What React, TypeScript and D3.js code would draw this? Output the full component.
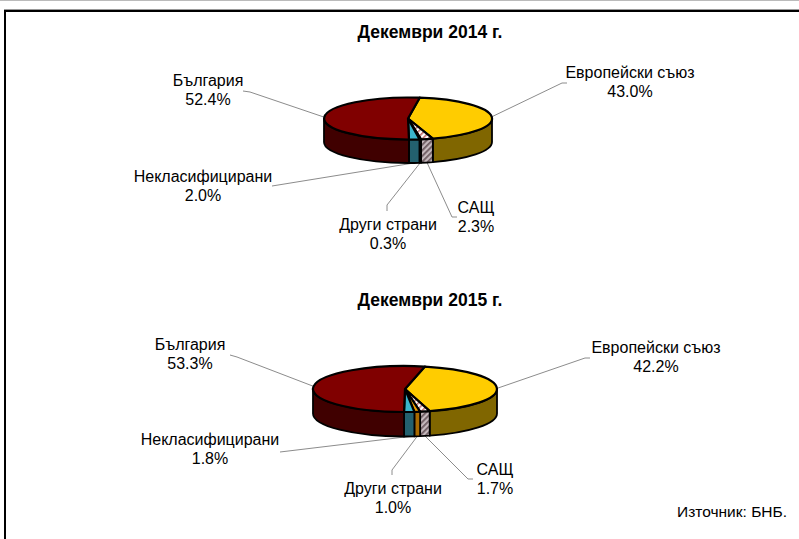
import React from "react";
import * as d3 from "d3";

// categories in the order the slices run clockwise from the top
const categories = ["Европейски съюз", "САЩ", "Други страни", "Некласифицирани", "България"];
const values2014 = [43.0, 2.3, 0.3, 2.0, 52.4];
const values2015 = [42.2, 1.7, 1.0, 1.8, 53.3];
const titles = ["Декември 2014 г.", "Декември 2015 г."];
const source = "Източник: БНБ.";

const topFill = ["#FFCC00", "url(#hatchTop)", "#F29E00", "#3BB4CC", "#800000"];
const sideFill = ["#806600", "url(#hatchSide)", "#A86A00", "#23606E", "#400000"];

const W = 799;
const H = 539;
const FONT = "'Liberation Sans', Arial, sans-serif";

interface LabelPos {
    x: number; // text centre
    y: number; // first baseline
    line: [number, number][]; // leader line points, from the label side
}

interface PieLayout {
    values: number[];
    title: string;
    titleY: number;
    cx: number;
    cy: number;
    rx: number;
    ry: number;
    depth: number;
    start: number; // degrees clockwise from top
    labels: LabelPos[];
}

const layouts: PieLayout[] = [
    {
        values: values2014, title: titles[0], titleY: 38,
        cx: 408, cy: 118.5, rx: 84, ry: 21, depth: 23.5, start: 8,
        labels: [
            { x: 630, y: 78, line: [[567, 83], [562, 83]] },
            { x: 476, y: 213, line: [[457, 217], [452, 217]] },
            { x: 388, y: 230, line: [[387, 211], [387, 205]] },
            { x: 203, y: 182, line: [[272, 186]] },
            { x: 208, y: 86, line: [[243, 91], [250, 92]] },
        ],
    },
    {
        values: values2015, title: titles[1], titleY: 306,
        cx: 405, cy: 389, rx: 92, ry: 23, depth: 24.5, start: 12.5,
        labels: [
            { x: 656, y: 353, line: [[590, 358], [585, 358]] },
            { x: 495, y: 475, line: [[473, 479], [468, 479]] },
            { x: 393, y: 494, line: [[392, 475], [392, 470]] },
            { x: 210, y: 445, line: [[280, 452]] },
            { x: 190, y: 350, line: [[230, 355], [237, 357]] },
        ],
    },
];

function Pie3D({ p }: { p: PieLayout }) {
    const s = (p.start * Math.PI) / 180;
    const arcs = d3.pie<number>().sort(null).startAngle(s).endAngle(s + 2 * Math.PI)(p.values);
    const pt = (t: number, dy = 0): [number, number] => [
        p.cx + p.rx * Math.sin(t),
        p.cy - p.ry * Math.cos(t) + dy,
    ];
    const f = (v: [number, number]) => `${v[0].toFixed(2)},${v[1].toFixed(2)}`;

    const topPath = (a0: number, a1: number) => {
        const large = a1 - a0 > Math.PI ? 1 : 0;
        return `M${p.cx},${p.cy}L${f(pt(a0))}A${p.rx},${p.ry} 0 ${large} 1 ${f(pt(a1))}Z`;
    };

    const sidePath = (a0: number, a1: number) => {
        const lo = Math.max(a0, Math.PI / 2);
        const hi = Math.min(a1, (3 * Math.PI) / 2);
        if (hi <= lo) return null;
        return (
            `M${f(pt(lo))}A${p.rx},${p.ry} 0 0 1 ${f(pt(hi))}` +
            `L${f(pt(hi, p.depth))}A${p.rx},${p.ry} 0 0 0 ${f(pt(lo, p.depth))}Z`
        );
    };

    const fmt = d3.format(".1f");

    return (
        <g>
            <text x={430} y={p.titleY} textAnchor="middle" fontWeight="bold" fontSize={17.5} fontFamily={FONT}>
                {p.title}
            </text>
            {/* leader lines */}
            {arcs.map((a, i) => {
                const mid = (a.startAngle + a.endAngle) / 2;
                const anchor = pt(mid, -Math.cos(mid) > 0.5 ? p.depth : 0);
                const pts = [...p.labels[i].line, anchor];
                return (
                    <polyline key={"l" + i} points={pts.map(f).join(" ")} fill="none" stroke="#8c8c8c" strokeWidth={1} />
                );
            })}
            {/* side walls */}
            {arcs.map((a, i) => {
                const d = sidePath(a.startAngle, a.endAngle);
                return d ? <path key={"s" + i} d={d} fill={sideFill[i]} stroke="#000" strokeWidth={1.8} strokeLinejoin="round" /> : null;
            })}
            {/* top faces */}
            {arcs.map((a, i) => (
                <path key={"t" + i} d={topPath(a.startAngle, a.endAngle)} fill={topFill[i]} stroke="#000" strokeWidth={2.2} strokeLinejoin="round" />
            ))}
            {/* labels */}
            {arcs.map((a, i) => (
                <text key={"x" + i} x={p.labels[i].x} y={p.labels[i].y} textAnchor="middle" fontSize={16} fontFamily={FONT}>
                    <tspan x={p.labels[i].x}>{categories[i]}</tspan>
                    <tspan x={p.labels[i].x} dy={19}>{fmt(a.data) + "%"}</tspan>
                </text>
            ))}
        </g>
    );
}

export default function App() {
    return (
        <svg width={W} height={H} style={{ position: "absolute", left: 0, top: 0, background: "#fff" }}>
            <defs>
                <pattern id="hatchTop" patternUnits="userSpaceOnUse" width={4} height={4} patternTransform="rotate(45)">
                    <rect width={4} height={4} fill="#fff" />
                    <rect width={1.6} height={4} fill="#c06a6a" />
                </pattern>
                <pattern id="hatchSide" patternUnits="userSpaceOnUse" width={4} height={4} patternTransform="rotate(45)">
                    <rect width={4} height={4} fill="#c4b8bc" />
                    <rect width={1.8} height={4} fill="#6e5c62" />
                </pattern>
            </defs>
            <rect width={W} height={H} fill="#fff" />
            <line x1={0} y1={0.5} x2={W} y2={0.5} stroke="#bbb" />
            <line x1={4} y1={9.5} x2={W} y2={9.5} stroke="#999" />
            <line x1={4} y1={11} x2={W} y2={11} stroke="#000" strokeWidth={2} />
            <line x1={5} y1={10} x2={5} y2={H} stroke="#000" strokeWidth={2} />
            {layouts.map((p, i) => (
                <Pie3D key={i} p={p} />
            ))}
            <text x={787} y={517} textAnchor="end" fontSize={15.5} fontFamily={FONT}>
                {source}
            </text>
        </svg>
    );
}
